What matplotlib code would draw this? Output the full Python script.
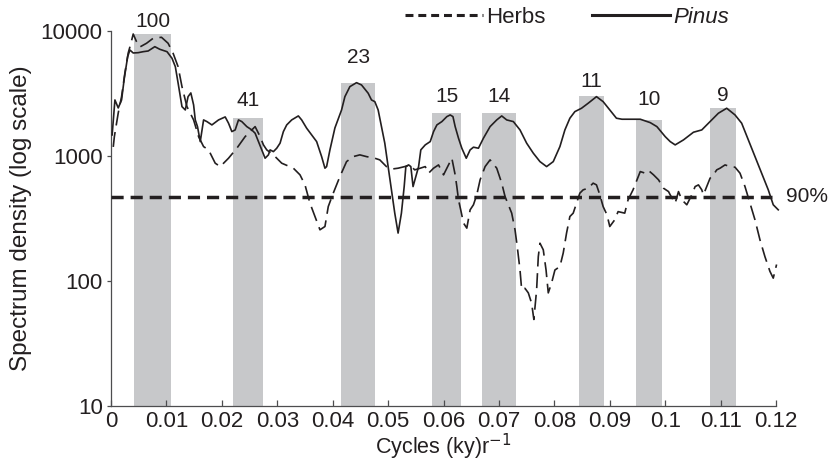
import matplotlib
matplotlib.use('Agg')
import matplotlib.pyplot as plt
from matplotlib.lines import Line2D

plt.rcParams['font.family'] = ['Liberation Sans', 'DejaVu Sans']
ink = '#231f20'

# Spectral power of Pinus pollen, frequency in cycles per ky
pinus_f = [0.0002, 0.0007, 0.0013, 0.0019, 0.0024, 0.0030, 0.0034, 0.0040, 0.0049, 0.0058,
           0.0067, 0.0079, 0.0088, 0.0101, 0.0110, 0.0116, 0.0121, 0.0128, 0.0134, 0.0139,
           0.0144, 0.0149, 0.0152, 0.0156, 0.0161, 0.0167, 0.0173, 0.0182, 0.0194, 0.0206,
           0.0212, 0.0218, 0.0224, 0.0230, 0.0236, 0.0245, 0.0254, 0.0260, 0.0266, 0.0272,
           0.0278, 0.0284, 0.0287, 0.0293, 0.0299, 0.0305, 0.0311, 0.0317, 0.0326, 0.0338,
           0.0344, 0.0353, 0.0362, 0.0371, 0.0380, 0.0386, 0.0389, 0.0395, 0.0404, 0.0416,
           0.0422, 0.0431, 0.0443, 0.0452, 0.0464, 0.0470, 0.0476, 0.0482, 0.0488, 0.0494,
           0.0500, 0.0506, 0.0512, 0.0518, 0.0524, 0.0529, 0.0532, 0.0537, 0.0541, 0.0545,
           0.0550, 0.0555, 0.0559, 0.0567, 0.0576, 0.0582, 0.0588, 0.0597, 0.0606, 0.0612,
           0.0617, 0.0621, 0.0627, 0.0633, 0.0641, 0.0648, 0.0654, 0.0663, 0.0672, 0.0684,
           0.0696, 0.0705, 0.0714, 0.0726, 0.0738, 0.0750, 0.0762, 0.0774, 0.0786, 0.0798,
           0.0810, 0.0819, 0.0828, 0.0837, 0.0849, 0.0861, 0.0876, 0.0888, 0.0900, 0.0912,
           0.0922, 0.0942, 0.0955, 0.0973, 0.0985, 0.1000, 0.1009, 0.1018, 0.1033, 0.1051,
           0.1066, 0.1081, 0.1096, 0.1111, 0.1126, 0.1138, 0.1150, 0.1162, 0.1174, 0.1186,
           0.1195, 0.1204]
pinus_p = [1472, 2805, 2421, 2805, 4207, 6230, 7047, 6668, 6706, 6830,
           6918, 7489, 7138, 6830, 6047, 5181, 3837, 2480, 2333, 2981,
           3192, 2559, 1941, 1716, 1302, 1941, 1882, 1770, 1941, 2051,
           1827, 1565, 1614, 1941, 1882, 1716, 1614, 1519, 1302, 1117,
           958, 1019, 1117, 1082, 1152, 1264, 1565, 1770, 1941, 2089,
           1941, 1666, 1472, 1302, 987, 797, 821, 1117, 1675, 2333,
           2981, 3585, 3858, 3698, 3175, 2805, 2719, 2333, 1716, 1264,
           821, 535, 348, 241, 348, 568, 821, 847, 821, 568,
           683, 821, 1117, 1225, 1302, 1565, 1770, 1882, 2063, 2128,
           2063, 1716, 1386, 1152, 958, 1117, 1174, 1152, 1386, 1716,
           1941, 2089, 1941, 1882, 1614, 1264, 1051, 900, 821, 900,
           1187, 1614, 2003, 2262, 2407, 2640, 2981, 2719, 2333, 2003,
           1966, 1966, 1966, 1847, 1716, 1427, 1302, 1225, 1343, 1547,
           1614, 1882, 2196, 2407, 2128, 1827, 1343, 987, 727, 535,
           406, 370]

# Spectral power of herb pollen
herbs_f = [0.0004, 0.0006, 0.0013, 0.0019, 0.0025, 0.0031, 0.0036, 0.0040, 0.0046, 0.0052,
           0.0064, 0.0076, 0.0091, 0.0103, 0.0112, 0.0121, 0.0128, 0.0137, 0.0149, 0.0158,
           0.0167, 0.0176, 0.0188, 0.0197, 0.0212, 0.0227, 0.0242, 0.0260, 0.0269, 0.0275,
           0.0281, 0.0293, 0.0308, 0.0329, 0.0341, 0.0350, 0.0359, 0.0368, 0.0377, 0.0386,
           0.0392, 0.0401, 0.0413, 0.0425, 0.0437, 0.0449, 0.0461, 0.0476, 0.0485, 0.0497,
           0.0509, 0.0518, 0.0530, 0.0539, 0.0548, 0.0558, 0.0567, 0.0573, 0.0582, 0.0591,
           0.0600, 0.0606, 0.0615, 0.0621, 0.0624, 0.0627, 0.0631, 0.0636, 0.0642, 0.0648,
           0.0654, 0.0660, 0.0666, 0.0675, 0.0684, 0.0696, 0.0705, 0.0711, 0.0717, 0.0723,
           0.0729, 0.0733, 0.0738, 0.0741, 0.0747, 0.0753, 0.0759, 0.0763, 0.0768, 0.0771,
           0.0774, 0.0780, 0.0785, 0.0789, 0.0795, 0.0801, 0.0810, 0.0816, 0.0822, 0.0828,
           0.0834, 0.0840, 0.0846, 0.0852, 0.0861, 0.0870, 0.0876, 0.0882, 0.0888, 0.0895,
           0.0900, 0.0909, 0.0915, 0.0927, 0.0933, 0.0942, 0.0949, 0.0955, 0.0964, 0.0970,
           0.0979, 0.0988, 0.0997, 0.1006, 0.1009, 0.1018, 0.1024, 0.1030, 0.1039, 0.1048,
           0.1054, 0.1060, 0.1066, 0.1069, 0.1075, 0.1081, 0.1087, 0.1093, 0.1099, 0.1108,
           0.1117, 0.1126, 0.1135, 0.1144, 0.1153, 0.1162, 0.1171, 0.1180, 0.1189, 0.1195,
           0.1201]
herbs_p = [1180, 1427, 2208, 2981, 4613, 6668, 8017, 9462, 8214, 7447,
           7973, 8743, 8906, 7973, 6631, 5181, 3585, 2480, 1941, 1427,
           1187, 1117, 874, 821, 958, 1152, 1427, 1716, 1427, 1225,
           1117, 1019, 874, 797, 705, 586, 418, 327, 256, 272,
           393, 503, 683, 900, 987, 1019, 987, 958, 929, 821,
           787, 797, 821, 847, 773, 797, 821, 727, 797, 847,
           705, 797, 958, 705, 568, 445, 370, 290, 264, 370,
           406, 488, 643, 821, 929, 797, 605, 473, 406, 348,
           256, 188, 122, 85, 87, 80, 66, 49, 85, 156,
           200, 177, 122, 80, 96, 122, 130, 167, 241, 327,
           348, 418, 503, 535, 551, 605, 586, 488, 393, 337,
           272, 308, 358, 348, 445, 535, 643, 749, 727, 763,
           705, 643, 551, 518, 488, 418, 518, 445, 406, 488,
           568, 586, 535, 488, 568, 663, 705, 773, 797, 847,
           821, 812, 727, 568, 418, 308, 213, 156, 119, 105,
           135]

# Orbital periods (ky) and their shaded frequency bands
periods = ['100', '41', '23', '15', '14', '11', '10', '9']
band_lo = [0.0042, 0.0220, 0.0415, 0.0579, 0.0670, 0.0844, 0.0948, 0.1081]
band_hi = [0.0108, 0.0274, 0.0477, 0.0632, 0.0731, 0.0890, 0.0995, 0.1127]
band_top = [9500, 2000, 3850, 2190, 2190, 3040, 1940, 2430]
label_pad = [2, 6, 11, 5, 5, 3, 8, 2]

conf_90 = 470

xticks = [0, 0.01, 0.02, 0.03, 0.04, 0.05, 0.06, 0.07, 0.08, 0.09, 0.1, 0.11, 0.12]
xtick_labels = ['0', '0.01', '0.02', '0.03', '0.04', '0.05', '0.06', '0.07', '0.08',
                '0.09', '0.1', '0.11', '0.12']
yticks = [10, 100, 1000, 10000]
ytick_labels = ['10', '100', '1000', '10000']

fig = plt.figure(figsize=(8.33, 4.62), dpi=100)
ax = fig.add_axes([0.1333, 0.1219, 0.7983, 0.811])
ax.set_yscale('log')
ax.set_xlim(0, 0.12)
ax.set_ylim(10, 10000)

# grey bands
for lo, hi, top, lab, pad in zip(band_lo, band_hi, band_top, periods, label_pad):
    ax.bar(lo, top - 10, width=hi - lo, bottom=10, align='edge',
           color='#c7c8ca', linewidth=0, zorder=1)
    ax.annotate(lab, ((lo + hi) / 2, top), xytext=(0, pad), textcoords='offset points',
                ha='center', va='bottom', fontsize=15, color=ink, annotation_clip=False)

ax.plot(herbs_f, herbs_p, color=ink, lw=1.2, ls=(0, (9, 4)), zorder=3, clip_on=False)
ax.plot(pinus_f, pinus_p, color=ink, lw=1.2, zorder=3, clip_on=False)

# 90% confidence level
ax.plot([0, 0.1193], [conf_90, conf_90], color=ink, lw=2.5, ls=(0, (3.5, 2)),
        zorder=4, clip_on=False)
ax.text(0.1218, conf_90, '90%', fontsize=15, color=ink, va='center', ha='left')

for side in ['top', 'right']:
    ax.spines[side].set_visible(False)
for side in ['left', 'bottom']:
    ax.spines[side].set_color('#4d4d4f')
    ax.spines[side].set_linewidth(0.9)

ax.yaxis.set_minor_locator(matplotlib.ticker.NullLocator())
ax.set_yticks(yticks, ytick_labels)
ax.set_xticks(xticks, xtick_labels)
ax.tick_params(axis='y', direction='out', length=3, width=0.9, color='#4d4d4f',
               labelsize=16, labelcolor=ink, pad=3)
ax.tick_params(axis='x', direction='in', length=4, width=0.9, color='#4d4d4f',
               labelsize=16, labelcolor=ink, pad=4)

ax.set_ylabel('Spectrum density (log scale)', fontsize=17.5, color=ink, labelpad=6)
ax.set_xlabel('Cycles (ky)r$^{-1}$', fontsize=15.5, color=ink, labelpad=0)

handles = [Line2D([], [], color=ink, lw=2.2, ls=(0, (2.6, 1.6))),
           Line2D([], [], color=ink, lw=2.2)]
leg = fig.legend(handles, ['Herbs', 'Pinus'], ncol=2, frameon=False,
                 loc='center', bbox_to_anchor=(0.681, 0.963), fontsize=16,
                 handlelength=3.5, handletextpad=0.15, columnspacing=2.1,
                 borderpad=0, labelcolor=ink)
leg.get_texts()[1].set_style('italic')

fig.savefig('out.png', dpi=100)
